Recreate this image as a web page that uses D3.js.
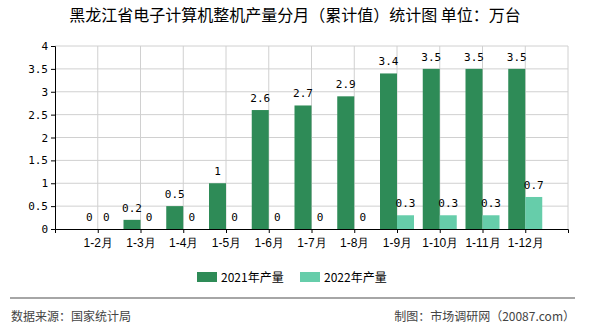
<!DOCTYPE html>
<html>
<head>
<meta charset="utf-8">
<script src="https://cdn.jsdelivr.net/npm/d3@7"></script>
<style>
  body { margin: 0; background: #fff; }
  svg { display: block; font-family: "Noto Sans CJK SC", sans-serif; }
</style>
</head>
<body>
<div id="chart"></div>
<script>
const categories = ['1-2月', '1-3月', '1-4月', '1-5月', '1-6月', '1-7月', '1-8月', '1-9月', '1-10月', '1-11月', '1-12月']
const values2021 = [0, 0.2, 0.5, 1, 2.6, 2.7, 2.9, 3.4, 3.5, 3.5, 3.5]
const values2022 = [0, 0, 0, 0, 0, 0, 0, 0.3, 0.3, 0.3, 0.7]
const yTicks = [0, 0.5, 1, 1.5, 2, 2.5, 3, 3.5, 4]
const seriesNames = ['2021年产量', '2022年产量']
const colors = ['#2E8B57', '#66CDAA']

const width = 590, height = 330
const margin = {top: 46, right: 22, bottom: 101, left: 55}
const plotW = width - margin.left - margin.right
const plotH = height - margin.top - margin.bottom
const barW = 17
const numFont = '"DejaVu Sans Mono", monospace'

const svg = d3.select('#chart').append('svg')
    .attr('width', width)
    .attr('height', height)

// title
svg.append('text')
    .attr('x', width / 2)
    .attr('y', 21)
    .attr('text-anchor', 'middle')
    .attr('font-size', 16)
    .attr('fill', '#000')
    .text('黑龙江省电子计算机整机产量分月（累计值）统计图 单位：万台')

const g = svg.append('g')
    .attr('transform', 'translate(' + margin.left + ',' + margin.top + ')')

const x = d3.scalePoint()
    .domain(categories)
    .range([0, plotW])
    .padding(1)

const y = d3.scaleLinear()
    .domain([0, 4])
    .range([plotH, 0])

// grid
g.append('g').selectAll('line')
    .data(yTicks.slice(1))
  .enter().append('line')
    .attr('x1', 0).attr('x2', plotW)
    .attr('y1', d => y(d)).attr('y2', d => y(d))
    .attr('stroke', '#d0d0d0')

g.append('g').selectAll('line')
    .data(categories)
  .enter().append('line')
    .attr('x1', d => x(d)).attr('x2', d => x(d))
    .attr('y1', 0).attr('y2', plotH)
    .attr('stroke', '#d0d0d0')

g.append('line')
    .attr('x1', plotW).attr('x2', plotW)
    .attr('y1', 0).attr('y2', plotH)
    .attr('stroke', '#d0d0d0')

// bars and value labels
const series = [values2021, values2022]
series.forEach((vals, s) => {
  g.append('g').selectAll('rect')
      .data(vals)
    .enter().append('rect')
      .attr('x', (d, i) => x(categories[i]) + (s === 0 ? -barW : 0))
      .attr('y', d => y(d))
      .attr('width', barW)
      .attr('height', d => plotH - y(d))
      .attr('fill', colors[s])

  g.append('g').selectAll('text')
      .data(vals)
    .enter().append('text')
      .attr('x', (d, i) => x(categories[i]) + (s === 0 ? -barW / 2 : barW / 2))
      .attr('y', d => y(d) - 8)
      .attr('text-anchor', 'middle')
      .attr('font-family', numFont)
      .attr('font-size', 11)
      .attr('fill', '#000')
      .text(d => d)
})

// axes
const yAxis = g.append('g')
    .call(d3.axisLeft(y).tickValues(yTicks).tickSize(4).tickFormat(d => d))
yAxis.select('.domain').attr('stroke', '#000')
yAxis.selectAll('text')
    .attr('font-family', numFont)
    .attr('font-size', 11)
    .attr('fill', '#000')

const xAxis = g.append('g')
    .attr('transform', 'translate(0,' + plotH + ')')
    .call(d3.axisBottom(x).tickSize(4).tickSizeOuter(4))
xAxis.select('.domain').attr('stroke', '#000')
xAxis.selectAll('text')
    .attr('font-size', 12)
    .attr('fill', '#000')
    .attr('dy', '0.9em')

// legend
const legend = svg.append('g')
const legendX = [197, 300]
seriesNames.forEach((name, i) => {
  legend.append('rect')
      .attr('x', legendX[i])
      .attr('y', 272)
      .attr('width', 20)
      .attr('height', 10)
      .attr('fill', colors[i])
  legend.append('text')
      .attr('x', legendX[i] + 24)
      .attr('y', 281.5)
      .attr('font-size', 12)
      .attr('fill', '#000')
      .text(name)
})

// footer
svg.append('line')
    .attr('x1', 10).attr('x2', 575)
    .attr('y1', 298).attr('y2', 298)
    .attr('stroke', '#888')
    .attr('stroke-width', 1.5)

svg.append('text')
    .attr('x', 11)
    .attr('y', 321)
    .attr('font-size', 12)
    .attr('fill', '#444')
    .text('数据来源：国家统计局')

svg.append('text')
    .attr('x', 575)
    .attr('y', 321)
    .attr('text-anchor', 'end')
    .attr('font-size', 12)
    .attr('fill', '#444')
    .text('制图：市场调研网（20087.com）')
</script>
</body>
</html>
